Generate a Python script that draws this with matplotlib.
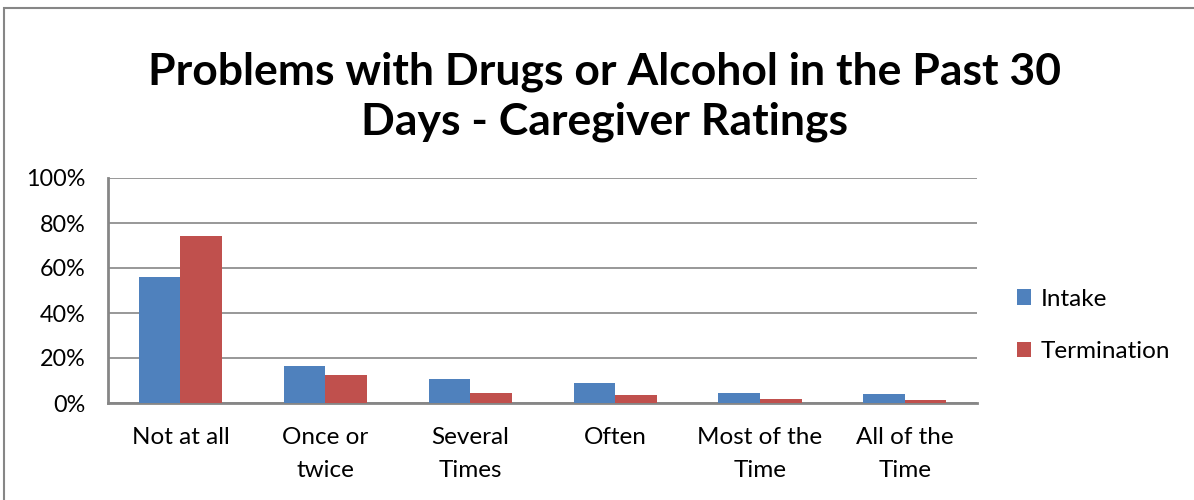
import numpy as np
import matplotlib
matplotlib.use("Agg")
import matplotlib.pyplot as plt
from matplotlib.patches import Rectangle

# 数据
categories = ["Not at all", "Once or\ntwice", "Several\nTimes", "Often", "Most of the\nTime", "All of the\nTime"]
intake = [56.0, 16.6, 10.7, 8.9, 4.4, 3.9]
termination = [74.2, 12.4, 4.6, 3.6, 1.8, 1.5]
series_names = ["Intake", "Termination"]
yticks = [0, 20, 40, 60, 80, 100]

plt.rcParams["font.family"] = ["Lato", "DejaVu Sans"]

fig = plt.figure(figsize=(11.94, 5), dpi=100)
ax = fig.add_axes([0.0905, 0.194, 0.728, 0.45])

x = np.arange(len(categories))
w = 0.287
ax.bar(x - w / 2, intake, w, color="#4F81BD", label=series_names[0], zorder=3)
ax.bar(x + w / 2, termination, w, color="#C0504D", label=series_names[1], zorder=3)

ax.set_xlim(-0.5, len(categories) - 0.5)
ax.set_ylim(0, 100)
ax.set_yticks(yticks)
ax.set_yticklabels([f"{v}%" for v in yticks], fontsize=16.8)
ax.set_xticks(x)
ax.set_xticklabels(categories, fontsize=17.5, linespacing=1.7)
ax.tick_params(axis="x", length=0, pad=17)
ax.tick_params(axis="y", length=0, pad=16)
ax.grid(axis="y", color="#868686", linewidth=1.2, zorder=0)
for s in ["top", "right"]:
    ax.spines[s].set_visible(False)
for s in ["left", "bottom"]:
    ax.spines[s].set_color("#868686")
    ax.spines[s].set_linewidth(2)

ax.legend(loc="center left", bbox_to_anchor=(1.02, 0.345), frameon=False,
          fontsize=17.5, handlelength=0.6, handleheight=0.6, labelspacing=1.3,
          handletextpad=0.4)

fig.text(0.506, 0.807, "Problems with Drugs or Alcohol in the Past 30\nDays - Caregiver Ratings",
         ha="center", va="center", fontsize=32, fontweight="bold", linespacing=1.3)

# 外框
fig.patches.append(Rectangle((0.003, -0.01), 1.05, 0.994, transform=fig.transFigure,
                             fill=False, edgecolor="#868686", linewidth=1.5))

fig.savefig("out.png", dpi=100)
